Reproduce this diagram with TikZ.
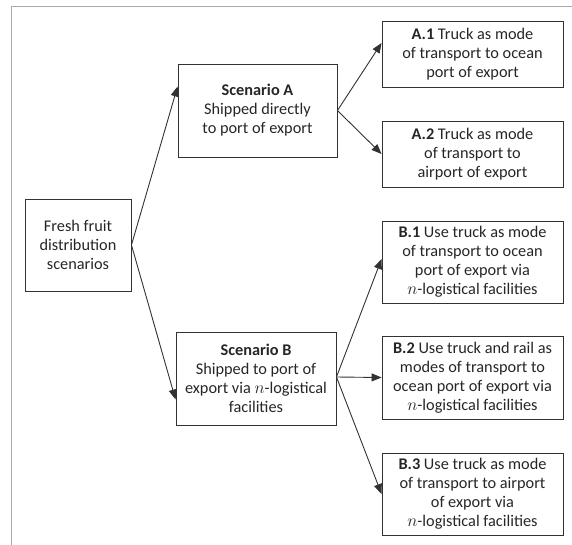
\documentclass[tikz,border=0pt]{standalone}
\usepackage{fontspec}
\setmainfont{Carlito}
\usepackage{xcolor}
\usetikzlibrary{arrows.meta,positioning,calc}
\definecolor{boxgray}  {RGB}{50,50,50}
\definecolor{framegray}{RGB}{170,170,170}

\begin{document}
\begin{tikzpicture}[
  x=1pt, y=-1pt,
  font=\fontsize{16.3}{19}\selectfont,
  box/.style={draw=boxgray, line width=0.9pt, align=center,
              inner sep=0pt, text=black!85},
  arr/.style={draw=boxgray, line width=0.9pt,
              -{Triangle[length=10pt,width=8pt]}},
]
\useasboundingbox (0,0) rectangle (572,545);

%-- outer frame
\draw[framegray, line width=1pt] (11,545) -- (11,7) -- (572,7);

%-- root
\node[box, minimum width=106, minimum height=92] (fresh) at (78,245)
  {Fresh fruit\\distribution\\scenarios};

%-- scenarios
\node[box, minimum width=159, minimum height=93] (scA) at (257.5,110.5)
  {\textbf{Scenario A}\\Shipped directly\\to port of export};
\node[box, minimum width=160, minimum height=93] (scB) at (256,378.5)
  {\textbf{Scenario B}\\Shipped to port of\\export via $n$-logistical\\facilities};

%-- options A
\node[box, minimum width=181, minimum height=66] (a1) at (472.5,54)
  {\textbf{A.1} Truck as mode\\of transport to ocean\\port of export};
\node[box, minimum width=181, minimum height=66] (a2) at (472.5,154)
  {\textbf{A.2} Truck as mode\\of transport to\\airport of export};

%-- options B
\node[box, minimum width=181, minimum height=82] (b1) at (472.5,262)
  {\textbf{B.1} Use truck as mode\\of transport to ocean\\port of export via\\$n$-logistical facilities};
\node[box, minimum width=181, minimum height=83] (b2) at (472.5,377.5)
  {\textbf{B.2} Use truck and rail as\\modes of transport to\\ocean port of export via\\$n$-logistical facilities};
\node[box, minimum width=181, minimum height=82] (b3) at (472.5,494)
  {\textbf{B.3} Use truck as mode\\of transport to airport\\of export via\\$n$-logistical facilities};

%-- arrows
\draw[arr] (fresh.east) -- ([yshift=24pt]scA.west);
\draw[arr] (fresh.east) -- ([yshift=-21pt]scB.west);
\draw[arr] (scA.east) -- ([yshift=11pt]a1.west);
\draw[arr] (scA.east) -- (a2.west);
\draw[arr] ([yshift=1.5pt]scB.east) -- ([yshift=3pt]b1.west);
\draw[arr] ([yshift=1.5pt]scB.east) -- (b2.west);
\draw[arr] ([yshift=1.5pt]scB.east) -- (b3.west);

\end{tikzpicture}
\end{document}
